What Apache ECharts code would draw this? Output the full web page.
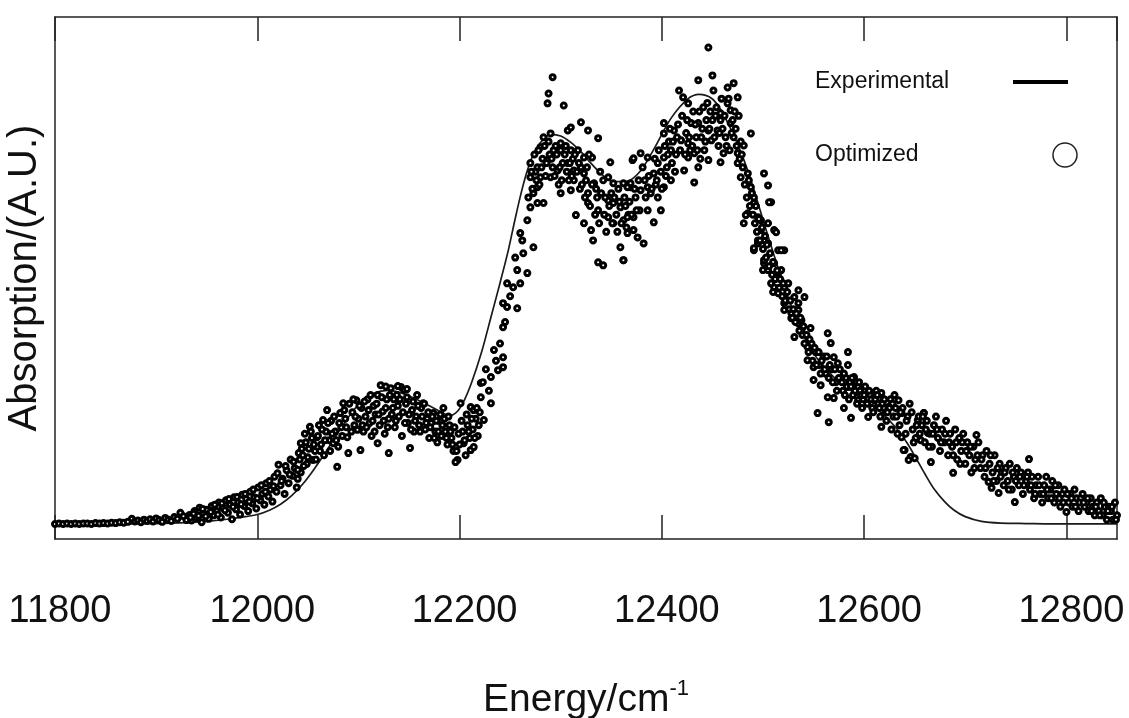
<!DOCTYPE html>
<html>
<head>
<meta charset="utf-8">
<script src="https://cdn.jsdelivr.net/npm/echarts@6/dist/echarts.min.js"></script>
<style>
html,body{margin:0;padding:0;background:#fff;}
#chart{width:1129px;height:718px;}
</style>
</head>
<body>
<div id="chart"></div>
<script>
// ---- Data ----
const xTicks = [11800, 12000, 12200, 12400, 12600, 12800];
const xTitle = 'Energy/cm';
const xTitleSup = '-1';
const yTitle = 'Absorption/(A.U.)';
const legendNames = ['Experimental', 'Optimized'];

// Experimental (smooth line)
const expEnergy = [11800,11850,11900,11930,11950,11970,11985,12000,12012,12023,12034,12045,12056,12067,12080,12092,12104,12115,12129,12140,12150,12160,12171,12182,12190,12197,12204,12212,12222,12231,12240,12248,12254,12260,12266,12272,12280,12290,12300,12310,12320,12337,12352,12366,12379,12392,12409,12426,12437,12449,12458,12471,12481,12491,12501,12511,12521,12535,12550,12570,12590,12614,12630,12642,12652,12660,12669,12680,12689,12700,12716,12735,12760,12800,12850];
const expAbs = [0,0,0.001,0.003,0.006,0.011,0.016,0.022,0.032,0.046,0.066,0.093,0.127,0.165,0.213,0.255,0.287,0.304,0.311,0.307,0.298,0.287,0.274,0.260,0.252,0.260,0.285,0.330,0.402,0.481,0.561,0.635,0.700,0.762,0.815,0.855,0.888,0.907,0.903,0.888,0.866,0.822,0.797,0.798,0.822,0.872,0.944,0.990,1.000,0.991,0.965,0.905,0.848,0.778,0.700,0.625,0.553,0.465,0.397,0.342,0.305,0.265,0.228,0.190,0.150,0.117,0.082,0.051,0.032,0.017,0.006,0.002,0.001,0,0];

// Optimized (scatter) [energy, absorption]
const optimized = [
[11800,0],[11804,0.001],[11808,0],[11812,0.001],[11816,0],[11820,0.001],[11824,0],[11828,0.001],[11832,0.001],[11836,0],[11840,0.002],[11844,0.001],[11848,0.002],[11852,0.001],[11856,0.003],[11860,0.002],[11864,0.004],[11868,0.003],[11872,0.005],[11876,0.012],[11879,0.006],[11882,0.008],[11885,0.004],[11888,0.01],[11891,0.007],[11894,0.011],[11897,0.006],[11900,0.013],[11903,0.009],[11906,0.005],[11909,0.014],[11912,0.01],[11915,0.007],[11918,0.016],[11921,0.012],[11924,0.026],[11927,0.018],[11930,0.009],
[11933,0.021],[11935,0.008],[11938,0.030],[11940,0.014],[11943,0.038],[11945,0.004],[11947,0.025],[11950,0.033],[11952,0.012],[11955,0.042],[11957,0.020],[11960,0.030],[11962,0.050],[11964,0.015],[11966,0.038],[11969,0.055],[11971,0.026],[11973,0.045],[11975,0.011],[11977,0.062],[11979,0.034],[11981,0.050],[11983,0.022],[11985,0.068],[11987,0.042],[11989,0.058],[11991,0.030],[11993,0.075],[11995,0.048],[11997,0.062],[11999,0.036],[12001,0.085],[12003,0.055],[12005,0.070],[12007,0.045],[12009,0.095],[12011,0.064],[12013,0.080],[12015,0.052],[12017,0.110],[12019,0.075],[12021,0.138],[12023,0.090],[12025,0.105],[12027,0.070],[12029,0.125],[12031,0.095],[12033,0.150],[12035,0.112],[12037,0.130],[12039,0.085],[12041,0.165],[12043,0.120],
[11934,0.015],[11937,0.024],[11942,0.019],[11946,0.035],[11949,0.018],[11954,0.028],[11958,0.045],[11961,0.022],[11965,0.048],[11968,0.032],[11972,0.058],[11976,0.040],[11980,0.063],[11984,0.046],[11988,0.070],[11992,0.052],[11996,0.080],[12000,0.060],[12004,0.090],[12008,0.075],[12012,0.100],[12016,0.088],[12020,0.118],[12024,0.100],[12028,0.135],[12032,0.115],[12036,0.145],[12040,0.105],[12042,0.150],
[12040,0.126],[12043,0.188],[12052,0.226],[12055,0.149],[12059,0.202],[12065,0.242],[12069,0.265],[12075,0.188],[12079,0.133],[12082,0.258],[12085,0.281],[12089,0.202],[12090,0.165],
[12045,0.160],[12047,0.210],[12049,0.140],[12051,0.175],[12054,0.200],[12057,0.170],[12061,0.230],[12063,0.185],[12066,0.160],[12068,0.215],[12071,0.195],[12073,0.240],[12077,0.215],[12080,0.180],[12083,0.225],[12087,0.245],
[12044,0.175],[12046,0.135],[12048,0.190],[12050,0.155],[12053,0.215],[12056,0.185],[12058,0.150],[12060,0.205],[12062,0.170],[12064,0.220],[12067,0.195],[12070,0.235],[12072,0.170],[12074,0.210],[12076,0.250],[12078,0.195],[12081,0.235],[12084,0.205],[12086,0.265],[12088,0.225],[12091,0.280],[12093,0.215],
[12098,0.288],[12122,0.323],[12132,0.316],[12142,0.319],[12145,0.312],[12158,0.300],[12164,0.281],[12174,0.258],[12119,0.188],[12130,0.165],[12151,0.177],[12102,0.172],[12099,0.219],[12127,0.320],[12139,0.321],[12148,0.314],
[12094,0.260],[12096,0.230],[12100,0.245],[12103,0.270],[12105,0.215],[12107,0.250],[12109,0.290],[12111,0.235],[12113,0.205],[12115,0.275],[12117,0.255],[12119,0.300],[12121,0.230],[12124,0.262],[12126,0.210],[12128,0.290],[12130,0.245],[12134,0.270],[12136,0.225],[12138,0.300],[12140,0.250],[12143,0.205],[12147,0.280],[12149,0.235],[12153,0.265],[12155,0.215],[12157,0.250],[12160,0.230],[12162,0.270],[12166,0.220],[12168,0.245],[12170,0.200],[12172,0.235],[12176,0.215],[12178,0.190],[12180,0.240],[12182,0.205],
[12095,0.290],[12097,0.250],[12101,0.275],[12104,0.230],[12106,0.285],[12108,0.225],[12110,0.265],[12112,0.300],[12114,0.240],[12116,0.215],[12118,0.280],[12120,0.255],[12123,0.295],[12125,0.240],[12127,0.270],[12129,0.225],[12131,0.300],[12133,0.255],[12135,0.290],[12137,0.240],[12139,0.275],[12141,0.290],[12144,0.260],[12146,0.235],[12148,0.295],[12150,0.255],[12152,0.220],[12154,0.285],[12156,0.240],[12159,0.275],[12161,0.215],[12163,0.250],[12165,0.280],[12167,0.235],[12169,0.260],[12171,0.225],[12173,0.250],[12175,0.200],[12177,0.240],[12179,0.215],[12181,0.255],[12183,0.230],
[12184,0.270],[12198,0.149],[12196,0.144],[12204,0.188],[12211,0.172],[12201,0.281],[12211,0.272],[12214,0.265],[12214,0.179],[12221,0.295],[12231,0.281],[12224,0.242],
[12186,0.215],[12188,0.185],[12190,0.230],[12192,0.200],[12194,0.170],[12200,0.185],[12203,0.215],[12206,0.160],[12208,0.230],[12210,0.200],[12213,0.220],[12216,0.245],[12218,0.205],[12220,0.260],
[12185,0.245],[12187,0.200],[12189,0.250],[12191,0.215],[12193,0.185],[12195,0.225],[12197,0.170],[12199,0.210],[12202,0.240],[12205,0.195],[12207,0.255],[12209,0.215],[12212,0.245],[12215,0.200],[12217,0.270],[12219,0.230],
[12221,0.328],[12223,0.330],[12231,0.342],[12238,0.358],[12243,0.365],[12234,0.405],[12243,0.388],[12243,0.458],[12247,0.505],[12257,0.502],[12243,0.514],[12247,0.560],[12253,0.551],[12260,0.560],[12257,0.591],[12267,0.584],[12263,0.630],[12273,0.644],[12260,0.677],[12267,0.707],[12270,0.737],[12277,0.747],[12283,0.747],[12273,0.770],[12277,0.784],[12270,0.807],[12280,0.807],[12290,0.807],[12270,0.840],[12277,0.830],[12287,0.847],[12297,0.823],[12300,0.770],[12280,0.877],[12283,0.900],[12290,0.909],[12293,0.870],[12300,0.870],[12307,0.916],[12310,0.923],[12300,0.886],[12310,0.870],[12307,0.840],[12317,0.870],[12323,0.853],[12313,0.823],[12320,0.830],[12313,0.800],[12310,0.777],[12323,0.816],[12331,0.853],[12320,0.935],[12327,0.916],[12337,0.898],[12349,0.842],[12292,1.040],[12288,1.002],[12287,0.979],[12303,0.974],[12315,0.719],[12327,0.770],[12333,0.793],[12327,0.747],[12337,0.730],[12323,0.700],[12330,0.684],[12332,0.660],[12337,0.609],[12342,0.602],[12347,0.753],[12347,0.714],[12352,0.747],[12352,0.700],[12359,0.737],[12362,0.707],[12366,0.677],[12359,0.644],[12362,0.614],[12372,0.714],[12376,0.667],[12347,0.807],[12342,0.800],[12352,0.793],[12362,0.793],[12369,0.784],[12371,0.847],
[12226,0.36],[12229,0.31],[12236,0.38],[12240,0.42],[12245,0.47],[12250,0.53],[12255,0.62],[12262,0.66],
[12272,0.78],[12275,0.82],[12279,0.79],[12282,0.85],[12285,0.81],[12289,0.86],[12292,0.83],[12295,0.88],[12298,0.79],[12302,0.84],[12305,0.88],[12308,0.80],[12312,0.85],[12316,0.82],[12319,0.78],[12325,0.80],[12328,0.86],[12335,0.78],[12339,0.82],[12344,0.76],[12350,0.77],[12355,0.72],[12357,0.78],[12364,0.74],[12367,0.72],[12374,0.76],[12378,0.73],
[12268,0.76],[12271,0.82],[12274,0.86],[12276,0.80],[12278,0.87],[12281,0.83],[12284,0.88],[12286,0.84],[12288,0.89],[12291,0.85],[12294,0.81],[12296,0.86],[12299,0.83],[12301,0.80],[12304,0.86],[12306,0.82],[12309,0.84],[12311,0.81],[12314,0.86],[12318,0.84],[12321,0.79],[12324,0.76],[12326,0.83],[12329,0.74],[12331,0.79],[12334,0.72],[12336,0.76],[12338,0.70],[12340,0.77],[12343,0.72],[12345,0.68],[12348,0.74],[12351,0.70],[12353,0.76],[12356,0.68],[12358,0.75],[12360,0.70],[12363,0.76],[12365,0.69],[12368,0.75],[12370,0.72],[12373,0.78],[12375,0.73],[12377,0.80],
[12446,1.109],[12450,1.044],[12436,1.033],[12417,1.009],[12421,0.993],[12426,0.979],[12441,0.970],[12451,1.009],[12465,1.016],[12471,1.026],[12475,0.993],[12465,0.979],[12458,0.956],[12468,0.963],[12458,0.940],[12468,0.933],[12455,0.916],[12471,0.900],[12488,0.909],[12481,0.881],[12475,0.863],[12461,0.863],[12458,0.842],[12475,0.840],[12402,0.933],[12402,0.909],[12412,0.916],[12429,0.933],[12436,0.933],[12419,0.893],[12426,0.886],[12439,0.900],[12446,0.916],[12449,0.893],[12442,0.870],[12446,0.847],[12432,0.863],[12426,0.853],[12422,0.823],[12436,0.830],[12432,0.795],[12409,0.870],[12402,0.853],[12396,0.840],[12386,0.853],[12379,0.863],[12372,0.851],[12392,0.816],[12409,0.800],[12402,0.784],[12396,0.760],[12386,0.784],[12379,0.777],[12369,0.793],[12366,0.784],[12386,0.730],[12399,0.730],[12392,0.702],[12382,0.653],[12372,0.684],[12362,0.614],[12366,0.714],
[12383,0.80],[12389,0.77],[12394,0.79],[12399,0.82],[12405,0.83],[12407,0.89],[12414,0.86],[12416,0.93],[12424,0.91],[12428,0.87],[12431,0.96],[12434,0.90],[12438,0.85],[12444,0.94],[12448,0.96],[12453,0.95],[12456,0.88],[12460,0.92],[12463,0.90],[12467,0.87],[12470,0.94],[12473,0.92],[12478,0.89],
[12381,0.83],[12384,0.76],[12387,0.81],[12390,0.78],[12393,0.85],[12395,0.80],[12397,0.87],[12400,0.78],[12403,0.88],[12404,0.81],[12406,0.86],[12408,0.92],[12410,0.84],[12411,0.89],[12413,0.82],[12415,0.90],[12418,0.87],[12420,0.95],[12423,0.86],[12425,0.94],[12427,0.90],[12430,0.88],[12433,0.93],[12435,0.87],[12437,0.96],[12440,0.92],[12443,0.89],[12445,0.98],[12447,0.92],[12450,0.94],[12452,0.90],[12454,0.97],[12457,0.91],[12459,0.99],[12462,0.95],[12464,0.88],[12466,0.99],[12469,0.91],[12472,0.96],[12474,0.88],[12476,0.95],[12477,0.85],[12479,0.86],[12480,0.83],
[12478,0.807],[12485,0.816],[12501,0.816],[12505,0.788],[12488,0.784],[12491,0.760],[12508,0.749],[12485,0.723],[12481,0.700],[12495,0.714],[12498,0.684],[12505,0.700],[12511,0.684],[12495,0.653],[12491,0.637],[12501,0.660],[12515,0.637],[12521,0.637],[12501,0.607],[12505,0.591],[12511,0.607],[12518,0.591],[12511,0.551],[12515,0.537],[12525,0.560],[12521,0.514],[12531,0.528],[12528,0.491],[12535,0.467],
[12491,0.747],[12506,0.749],[12483,0.719],[12498,0.707],[12513,0.679],[12495,0.660],[12491,0.642],[12505,0.653],[12518,0.637],[12501,0.614],[12500,0.591],[12515,0.584],[12508,0.560],[12510,0.540],[12521,0.551],[12535,0.544],[12541,0.528],[12521,0.528],[12535,0.514],[12521,0.498],[12528,0.479],[12538,0.474],[12535,0.498],[12531,0.435],[12538,0.451],[12547,0.456],[12564,0.444],[12567,0.421],[12544,0.412],[12544,0.381],[12550,0.365],[12550,0.335],[12557,0.323],[12564,0.295],[12570,0.293],[12570,0.388],[12574,0.374],[12584,0.400],[12584,0.370],[12554,0.258],[12565,0.237],[12580,0.270],[12587,0.247],[12577,0.335],[12584,0.319],[12590,0.342],[12594,0.319],[12594,0.288],[12604,0.305],[12610,0.288],[12617,0.305],[12604,0.249],[12617,0.226],[12624,0.272],[12634,0.288],[12637,0.258],[12637,0.202],[12640,0.172],[12646,0.156],[12653,0.242],[12659,0.258],[12663,0.212],[12656,0.195],
[12482,0.79],[12484,0.76],[12486,0.80],[12487,0.74],[12489,0.77],[12490,0.72],[12492,0.70],[12493,0.74],[12494,0.68],[12496,0.71],[12497,0.66],[12499,0.69],[12500,0.64],[12502,0.67],[12503,0.62],[12504,0.65],[12506,0.60],[12507,0.63],[12509,0.58],[12510,0.61],[12512,0.57],[12514,0.59],[12516,0.55],[12517,0.57],[12519,0.53],[12520,0.56],[12522,0.52],[12524,0.54],[12526,0.50],[12527,0.52],[12529,0.48],[12530,0.50],[12532,0.47],[12533,0.49],[12536,0.45],[12537,0.48],[12539,0.44],
[12540,0.46],[12548,0.42],[12552,0.40],[12556,0.37],[12560,0.39],[12562,0.35],[12568,0.36],[12572,0.33],[12576,0.36],[12579,0.31],[12582,0.34],[12586,0.33],[12589,0.30],[12592,0.33],[12596,0.31],[12599,0.29],[12601,0.32],[12606,0.30],[12608,0.27],[12612,0.31],[12614,0.28],[12619,0.29],[12621,0.26],[12626,0.29],[12629,0.25],[12631,0.27],
[12541,0.42],[12543,0.44],[12545,0.40],[12546,0.43],[12549,0.38],[12551,0.41],[12553,0.37],[12555,0.40],[12557,0.35],[12558,0.38],[12561,0.36],[12563,0.39],[12565,0.34],[12566,0.37],[12569,0.33],[12571,0.36],[12573,0.31],[12575,0.34],[12578,0.33],[12580,0.35],[12581,0.30],[12583,0.32],[12585,0.29],[12587,0.32],[12588,0.34],[12591,0.31],[12593,0.28],[12595,0.33],[12597,0.30],[12598,0.27],[12600,0.30],[12603,0.28],[12605,0.31],[12607,0.29],[12609,0.26],[12611,0.29],[12613,0.30],[12615,0.27],[12616,0.25],[12618,0.28],
[12639,0.172],[12644,0.149],[12650,0.153],[12666,0.144],[12688,0.119],[12723,0.098],[12726,0.084],[12733,0.072],[12749,0.051],[12763,0.151],[12800,0.028],[12711,0.207],[12659,0.258],
[12620,0.29],[12622,0.24],[12625,0.27],[12627,0.22],[12630,0.30],[12632,0.25],[12635,0.23],[12638,0.27],[12641,0.21],[12643,0.25],[12645,0.28],[12648,0.22],[12651,0.20],[12654,0.25],[12657,0.23],[12660,0.19],
[12662,0.24],[12665,0.21],[12667,0.18],[12669,0.23],[12671,0.25],[12673,0.20],[12675,0.17],[12677,0.22],[12679,0.19],[12681,0.24],[12683,0.16],[12685,0.21],[12687,0.18],[12690,0.22],[12692,0.15],[12694,0.20],[12696,0.17],[12698,0.21],
[12700,0.14],[12702,0.19],[12704,0.16],[12706,0.12],[12708,0.18],[12710,0.15],[12713,0.19],[12715,0.13],[12717,0.16],[12719,0.11],[12721,0.17],[12724,0.14],[12727,0.12],[12729,0.16],[12731,0.10],[12734,0.14],[12736,0.12],[12738,0.09],
[12740,0.13],[12742,0.10],[12744,0.14],[12746,0.08],[12748,0.11],[12751,0.13],[12753,0.09],[12755,0.12],[12757,0.07],[12760,0.10],[12762,0.12],[12764,0.08],[12766,0.11],[12768,0.06],[12770,0.09],[12772,0.11],[12774,0.07],[12776,0.05],
[12778,0.09],[12780,0.11],[12782,0.06],[12784,0.08],[12786,0.10],[12788,0.05],[12790,0.07],[12792,0.09],[12794,0.04],[12796,0.07],[12798,0.08],[12802,0.05],[12804,0.07],[12806,0.04],[12808,0.08],[12810,0.06],[12812,0.03],[12814,0.06],
[12816,0.07],[12818,0.04],[12820,0.05],[12822,0.03],[12824,0.06],[12826,0.04],[12828,0.02],[12830,0.05],[12832,0.03],[12834,0.06],[12836,0.02],[12838,0.04],[12840,0.01],[12842,0.04],[12844,0.03],[12846,0.01],[12848,0.05],[12850,0.02],
[12623,0.26],[12628,0.28],[12633,0.21],[12636,0.26],[12642,0.24],[12647,0.26],[12649,0.19],[12652,0.23],[12655,0.21],[12658,0.25],[12661,0.22],[12664,0.18],[12668,0.21],[12672,0.22],[12676,0.19],[12680,0.21],[12684,0.19],[12688,0.16],[12691,0.19],[12695,0.14],[12697,0.19],[12701,0.17],[12705,0.18],[12709,0.13],[12712,0.16],[12716,0.15],[12720,0.13],[12725,0.16],[12728,0.10],[12732,0.13],[12735,0.11],[12739,0.12],[12743,0.08],[12747,0.12],[12750,0.10],[12754,0.11],[12758,0.09],[12761,0.11],[12765,0.09],[12769,0.07],[12773,0.09],[12777,0.07],[12781,0.08],[12785,0.06],[12789,0.09],[12793,0.06],[12797,0.05],[12801,0.07],[12805,0.06],[12809,0.04],[12813,0.05],[12817,0.05],[12821,0.06],[12825,0.03],[12829,0.04],[12833,0.02],[12837,0.05],[12841,0.03],[12845,0.04],[12849,0.01]
];

// ---- Chart ----
const FONT = '"Liberation Sans", Arial, Helvetica, sans-serif';
const chart = echarts.init(document.getElementById('chart'), null, {renderer: 'canvas'});
const xMin = xTicks[0], xMax = 12850, xStep = xTicks[1] - xTicks[0];
const axisLineStyle = {color: '#222', width: 1.5};

const option = {
  animation: false,
  backgroundColor: '#fff',
  grid: {left: 55, right: 12, top: 17, bottom: 179, containLabel: false, outerBoundsMode: 'none'},
  xAxis: [
    {
      type: 'value', min: xMin, max: xMax, interval: xStep, position: 'bottom',
      name: '{a|' + xTitle + '}{b|' + xTitleSup + '}',
      nameLocation: 'middle', nameGap: 139,
      nameTextStyle: {
        rich: {
          a: {fontSize: 39, fontFamily: FONT, color: '#111', lineHeight: 44},
          b: {fontSize: 22, fontFamily: FONT, color: '#111', verticalAlign: 'top', lineHeight: 30}
        }
      },
      axisLine: {show: true, onZero: false, lineStyle: axisLineStyle},
      axisTick: {show: true, inside: true, length: 24, lineStyle: axisLineStyle},
      axisLabel: {show: true, margin: 54, fontSize: 38, fontFamily: FONT, color: '#111',
        padding: [0, 0, 0, 10],
        showMaxLabel: false, showMinLabel: true, formatter: v => String(v)},
      splitLine: {show: false}
    },
    {
      type: 'value', min: xMin, max: xMax, interval: xStep, position: 'top',
      axisLine: {show: true, onZero: false, lineStyle: axisLineStyle},
      axisTick: {show: true, inside: true, length: 24, lineStyle: axisLineStyle},
      axisLabel: {show: false},
      splitLine: {show: false}
    }
  ],
  yAxis: [
    {
      type: 'value', min: -0.035, max: 1.18, position: 'left',
      name: yTitle, nameLocation: 'middle', nameGap: 10, nameRotate: 90,
      nameTextStyle: {fontSize: 40, fontFamily: FONT, color: '#111'},
      axisLine: {show: true, onZero: false, lineStyle: axisLineStyle},
      axisTick: {show: false}, axisLabel: {show: false}, splitLine: {show: false}
    },
    {
      type: 'value', min: -0.035, max: 1.18, position: 'right',
      axisLine: {show: true, onZero: false, lineStyle: axisLineStyle},
      axisTick: {show: false}, axisLabel: {show: false}, splitLine: {show: false}
    }
  ],
  series: [
    {
      name: legendNames[0], type: 'line',
      data: expEnergy.map((e, i) => [e, expAbs[i]]),
      smooth: 0.3, showSymbol: false,
      lineStyle: {color: '#1a1a1a', width: 1.7}, z: 2
    },
    {
      name: legendNames[1], type: 'scatter',
      data: optimized, symbol: 'circle', symbolSize: 5,
      itemStyle: {color: '#fff', borderColor: '#000', borderWidth: 3, opacity: 1},
      z: 3
    }
  ],
  graphic: [
    {type: 'text', x: 815, y: 82, style: {text: legendNames[0], fontSize: 23, fontFamily: FONT, fill: '#111', verticalAlign: 'middle', align: 'left'}},
    {type: 'line', shape: {x1: 1013, y1: 82, x2: 1068, y2: 82}, style: {stroke: '#000', lineWidth: 4}},
    {type: 'text', x: 815, y: 155, style: {text: legendNames[1], fontSize: 23, fontFamily: FONT, fill: '#111', verticalAlign: 'middle', align: 'left'}},
    {type: 'circle', shape: {cx: 1065, cy: 155, r: 12}, style: {stroke: '#222', lineWidth: 1.5, fill: '#fff'}}
  ]
};
chart.setOption(option);
</script>
</body>
</html>
